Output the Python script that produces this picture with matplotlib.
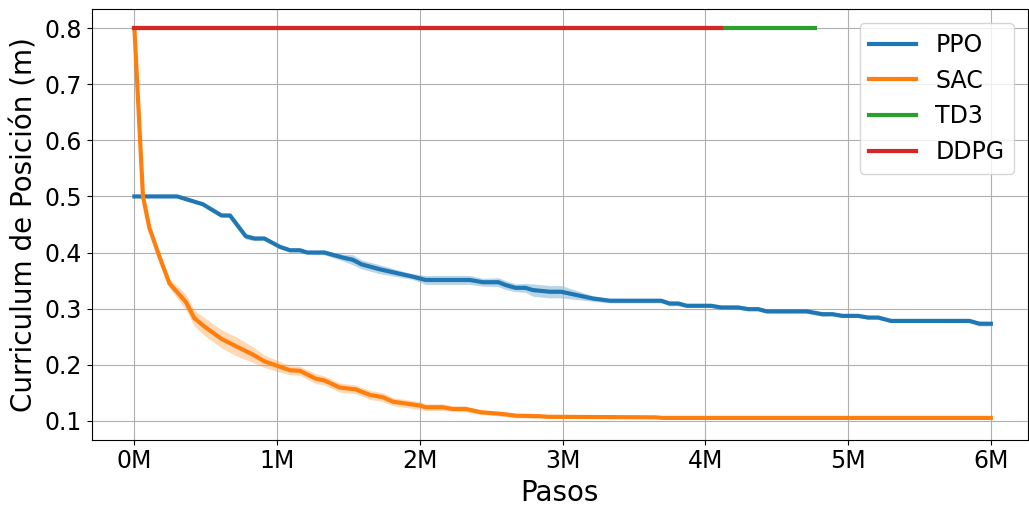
import matplotlib.pyplot as plt
import numpy as np
from matplotlib.ticker import FuncFormatter

# steps in millions
ppo_x = [0.0, 0.30, 0.48, 0.61, 0.67, 0.78, 0.84, 0.91, 1.02, 1.09, 1.16, 1.21, 1.33, 1.46,
         1.53, 1.59, 1.72, 1.86, 1.95, 2.04, 2.35, 2.44, 2.55, 2.60, 2.67, 2.74, 2.79, 2.91,
         2.99, 3.21, 3.33, 3.69, 3.75, 3.81, 3.87, 4.04, 4.11, 4.23, 4.30, 4.37, 4.43, 4.71,
         4.82, 4.89, 4.96, 5.07, 5.14, 5.21, 5.30, 5.85, 5.92, 6.0]
ppo_y = [0.500, 0.500, 0.486, 0.466, 0.466, 0.429, 0.425, 0.425, 0.410, 0.404, 0.404, 0.400,
         0.400, 0.391, 0.387, 0.379, 0.370, 0.362, 0.357, 0.351, 0.351, 0.347, 0.347, 0.342,
         0.337, 0.337, 0.333, 0.330, 0.330, 0.318, 0.314, 0.314, 0.309, 0.309, 0.305, 0.305,
         0.302, 0.302, 0.299, 0.299, 0.295, 0.295, 0.290, 0.290, 0.287, 0.287, 0.284, 0.284,
         0.278, 0.278, 0.273, 0.273]
ppo_sd = [0.001, 0.001, 0.002, 0.002, 0.003, 0.005, 0.004, 0.003, 0.003, 0.003, 0.003, 0.003,
          0.004, 0.006, 0.009, 0.008, 0.008, 0.006, 0.005, 0.008, 0.008, 0.007, 0.008, 0.008,
          0.007, 0.008, 0.011, 0.011, 0.011, 0.005, 0.004, 0.004, 0.004, 0.004, 0.003, 0.003,
          0.003, 0.003, 0.003, 0.003, 0.003, 0.003, 0.004, 0.003, 0.003, 0.003, 0.003, 0.003,
          0.003, 0.003, 0.004, 0.004]

sac_x = [0.0, 0.02, 0.04, 0.06, 0.105, 0.175, 0.245, 0.36, 0.42, 0.49, 0.61, 0.71, 0.83, 0.91,
         1.0, 1.09, 1.16, 1.27, 1.33, 1.44, 1.55, 1.65, 1.74, 1.81, 2.0, 2.04, 2.16, 2.23, 2.32,
         2.43, 2.58, 2.67, 2.84, 2.9, 3.65, 3.7, 6.0]
sac_y = [0.800, 0.700, 0.600, 0.500, 0.444, 0.393, 0.345, 0.312, 0.283, 0.268, 0.246, 0.233,
         0.218, 0.206, 0.198, 0.190, 0.189, 0.175, 0.172, 0.159, 0.156, 0.146, 0.142, 0.134,
         0.127, 0.124, 0.124, 0.121, 0.121, 0.115, 0.112, 0.109, 0.108, 0.107, 0.106, 0.105,
         0.105]
sac_sd = [0.0, 0.003, 0.004, 0.004, 0.005, 0.007, 0.008, 0.014, 0.014, 0.016, 0.016, 0.017,
          0.014, 0.011, 0.010, 0.008, 0.008, 0.009, 0.008, 0.008, 0.008, 0.008, 0.008, 0.007,
          0.007, 0.006, 0.006, 0.005, 0.005, 0.004, 0.004, 0.004, 0.003, 0.003, 0.002, 0.002,
          0.002]

td3_x = [0.0, 4.77]
td3_y = [0.8, 0.8]
ddpg_x = [0.0, 4.11]
ddpg_y = [0.8, 0.8]

fig, ax = plt.subplots(figsize=(10.29, 5.09), dpi=100)
fig.subplots_adjust(left=0.089, right=0.999, top=0.982, bottom=0.136)

series = [("PPO", ppo_x, ppo_y, ppo_sd, "#1f77b4"),
          ("SAC", sac_x, sac_y, sac_sd, "#ff7f0e")]
for name, x, y, sd, c in series:
    x = np.array(x); y = np.array(y); sd = np.array(sd)
    ax.plot(x, y, color=c, linewidth=3, label=name)
    ax.fill_between(x, y - sd, y + sd, color=c, alpha=0.3, linewidth=0)

ax.plot(td3_x, td3_y, color="#2ca02c", linewidth=3, label="TD3")
ax.plot(ddpg_x, ddpg_y, color="#d62728", linewidth=3, label="DDPG")

ax.set_xlim(-0.3, 6.26)
ax.set_ylim(0.066, 0.834)
ax.xaxis.set_major_formatter(FuncFormatter(lambda v, p: "%dM" % round(v)))
ax.set_xticks([0, 1, 2, 3, 4, 5, 6])
ax.set_yticks([0.1, 0.2, 0.3, 0.4, 0.5, 0.6, 0.7, 0.8])
ax.tick_params(labelsize=17)
ax.set_xlabel("Pasos", fontsize=20)
ax.set_ylabel("Curriculum de Posición (m)", fontsize=20)
ax.grid(True)
ax.legend(fontsize=17, loc="upper right", bbox_to_anchor=(1.0, 1.0), borderaxespad=0.6)

fig.savefig("out.png")
